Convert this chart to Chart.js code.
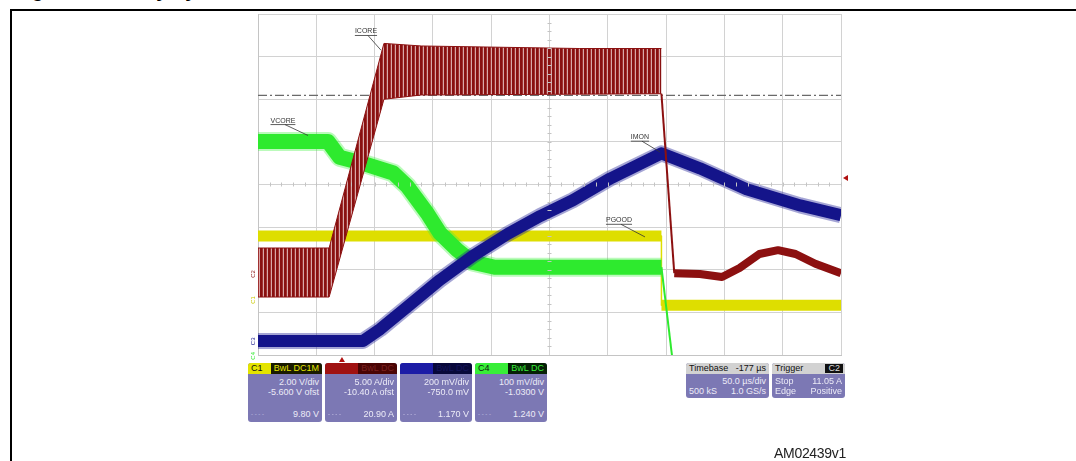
<!DOCTYPE html>
<html>
<head>
<meta charset="utf-8">
<script src="https://cdn.jsdelivr.net/npm/chart.js@4"></script>
<style>
  body { margin: 0; background: #fff; width: 1076px; height: 461px; overflow: hidden; position: relative; font-family: "Liberation Sans", Arial, sans-serif; }
  #title { position: absolute; left: 14px; top: -21px; font: bold 20px "Liberation Sans", Arial, sans-serif; color: #000; white-space: nowrap; }
  #frame { position: absolute; left: 10px; top: 9px; width: 1080px; height: 470px; border-top: 2px solid #000; border-left: 2px solid #000; }
  #c { position: absolute; left: 0; top: 0; }
  .box { position: absolute; background: #7c78b4; border-radius: 3px; color: #ecebf7; font-size: 9px; line-height: 10px; overflow: hidden; }
  .hdr { position: absolute; left: 0; top: 0; right: 0; height: 11px; display: flex; }
  .hdr .a { padding-left: 3px; flex: 1; }
  .hdr .b { padding: 0 3px; }
  .row { position: absolute; left: 3px; right: 3px; display: flex; justify-content: space-between; }
  .dash { font-size: 6px; color: #c9c6e6; }
  #caption { position: absolute; left: 774px; top: 445px; font: 14px "Liberation Sans", Arial, sans-serif; letter-spacing: -0.3px; color: #222; }
</style>
</head>
<body>
<div id="title">Figure 18. Delay by constant current</div>
<div id="frame"></div>
<canvas id="c" width="1076" height="461"></canvas>

<div class="box" style="left:248px;top:363px;width:74px;height:59px">
  <div class="hdr"><span class="a" style="background:#e4e400;color:#111">C1</span><span class="b" style="background:#1a1a00;color:#e4e400">BwL DC1M</span></div>
  <div class="row" style="top:14px"><span></span><span>2.00 V/div</span></div>
  <div class="row" style="top:24px"><span></span><span>-5.600 V ofst</span></div>
  <div class="row" style="top:46px"><span class="dash">- - - -</span><span>9.80 V</span></div>
</div>
<div class="box" style="left:325px;top:363px;width:72px;height:59px">
  <div class="hdr"><span class="a" style="background:#a01212;color:#a01212">C2</span><span class="b" style="background:#4a0404;color:#7a2020">BwL DC</span></div>
  <div class="row" style="top:14px"><span></span><span>5.00 A/div</span></div>
  <div class="row" style="top:24px"><span></span><span>-10.40 A ofst</span></div>
  <div class="row" style="top:46px"><span class="dash">- - - -</span><span>20.90 A</span></div>
</div>
<div class="box" style="left:400px;top:363px;width:72px;height:59px">
  <div class="hdr"><span class="a" style="background:#1c1ca6;color:#1c1ca6">C3</span><span class="b" style="background:#08083a;color:#14145a">BwL DC</span></div>
  <div class="row" style="top:14px"><span></span><span>200 mV/div</span></div>
  <div class="row" style="top:24px"><span></span><span>-750.0 mV</span></div>
  <div class="row" style="top:46px"><span class="dash">- - - -</span><span>1.170 V</span></div>
</div>
<div class="box" style="left:475px;top:363px;width:72px;height:59px">
  <div class="hdr"><span class="a" style="background:#38ee38;color:#111">C4</span><span class="b" style="background:#062006;color:#38ee38">BwL DC</span></div>
  <div class="row" style="top:14px"><span></span><span>100 mV/div</span></div>
  <div class="row" style="top:24px"><span></span><span>-1.0300 V</span></div>
  <div class="row" style="top:46px"><span class="dash">- - - -</span><span>1.240 V</span></div>
</div>
<div class="box" style="left:686px;top:363px;width:83px;height:35px">
  <div class="hdr" style="background:#d2d2d2;color:#111"><span class="a">Timebase</span><span class="b">-177 µs</span></div>
  <div class="row" style="top:13px"><span></span><span>50.0 µs/div</span></div>
  <div class="row" style="top:23px"><span>500 kS</span><span>1.0 GS/s</span></div>
</div>
<div class="box" style="left:772px;top:363px;width:73px;height:35px">
  <div class="hdr" style="background:#d2d2d2;color:#111"><span class="a">Trigger</span><span class="b" style="background:#111;color:#ddd;margin:1px 2px;line-height:9px">C2</span></div>
  <div class="row" style="top:13px"><span>Stop</span><span>11.05 A</span></div>
  <div class="row" style="top:23px"><span>Edge</span><span>Positive</span></div>
</div>
<div id="caption">AM02439v1</div>

<script>
// time axis in µs (50 µs/div, 10 div), vertical axis in screen divisions (-4..4)

// ICORE (C2) ripple envelope before the shutdown
const icoreT = [0, 61, 108, 140, 276, 346];
const icoreUpper = [-1.49, -1.49, 3.31, 3.25, 3.19, 3.19];
const icoreLower = [-2.64, -2.64, 2.0, 2.1, 2.12, 2.13];
// ICORE after the drop
const icoreOffT = [346, 357, 379, 398, 413, 430, 446, 461, 478, 500];
const icoreOffV = [2.13, -2.08, -2.1, -2.17, -1.96, -1.63, -1.54, -1.63, -1.86, -2.08];

// VCORE (C4)
const vcoreT = [0, 60, 70, 92, 116, 128, 145, 156, 171, 184, 203, 346, 355];
const vcoreV = [1.01, 1.01, 0.64, 0.48, 0.27, -0.04, -0.67, -1.14, -1.54, -1.82, -1.94, -1.94, -4.0];

// IMON (C3)
const imonT = [0, 90, 105, 128, 156, 184, 214, 242, 270, 302, 346, 379, 419, 465, 500];
const imonV = [-3.67, -3.67, -3.39, -2.87, -2.24, -1.68, -1.16, -0.74, -0.37, 0.14, 0.73, 0.38, -0.11, -0.49, -0.72];

// PGOOD (C1)
const pgoodT = [0, 346, 346, 500];
const pgoodV = [-1.21, -1.21, -2.83, -2.83];

// trigger level / trigger time
const triggerLevel = 2.09;
const triggerTime = 72;

const traceLabels = ['ICORE', 'VCORE', 'IMON', 'PGOOD'];
const channelNames = ['C2', 'C1', 'C3', 'C4'];
const channelLevels = [-2.1, -2.71, -3.68, -4.02];

const RED = '#8c1010', BLUE = '#14148a', GREEN = '#2eea2e', YELLOW = '#dede00';

const pts = (xs, ys) => xs.map((x, i) => ({ x: x, y: ys[i] }));

const canvas = document.getElementById('c');
const ctx = canvas.getContext('2d');

// vertical stripe pattern for the switching ripple band
const pc = document.createElement('canvas');
pc.width = 4; pc.height = 1;
const pctx = pc.getContext('2d');
pctx.fillStyle = '#881010'; pctx.fillRect(0, 0, 2, 1);
pctx.fillStyle = '#a03030'; pctx.fillRect(2, 0, 1, 1);
pctx.fillStyle = '#d8a8a8'; pctx.fillRect(3, 0, 1, 1);
const ripple = ctx.createPattern(pc, 'repeat');

// label anchors: text centre and leader end, in data units
const labelPos = [
  { t: 92.6, v: 3.59, lt: 105.5, lv: 3.15 },
  { t: 21.4, v: 1.50, lt: 42.9, lv: 1.15 },
  { t: 327.6, v: 1.11, lt: 344.8, lv: 0.76 },
  { t: 309.6, v: -0.84, lt: 331.9, lv: -1.23 }
];

const decorations = {
  id: 'decorations',
  afterDatasetsDraw(chart) {
    const c = chart.ctx, xs = chart.scales.x, ys = chart.scales.y, area = chart.chartArea;
    c.save();
    // centre-line minor ticks
    c.strokeStyle = '#c4c4c4'; c.lineWidth = 1;
    const cy = ys.getPixelForValue(0), cx = xs.getPixelForValue(250);
    for (let t = 0; t <= 500; t += 10) {
      const px = Math.round(xs.getPixelForValue(t)) + 0.5;
      c.beginPath(); c.moveTo(px, cy - 2); c.lineTo(px, cy + 2); c.stroke();
    }
    for (let v = -4; v <= 4; v += 0.2) {
      const py = Math.round(ys.getPixelForValue(v)) + 0.5;
      c.beginPath(); c.moveTo(cx - 2, py); c.lineTo(cx + 2, py); c.stroke();
    }
    // trace labels with leaders
    c.font = '7px "Liberation Sans", Arial, sans-serif';
    c.textAlign = 'center'; c.textBaseline = 'middle';
    traceLabels.forEach((txt, i) => {
      const p = labelPos[i];
      const x = xs.getPixelForValue(p.t), y = ys.getPixelForValue(p.v);
      const w = c.measureText(txt).width;
      c.fillStyle = '#333'; c.fillText(txt, x, y);
      c.strokeStyle = '#333'; c.lineWidth = 0.8;
      c.beginPath(); c.moveTo(x - w / 2, y + 4); c.lineTo(x + w / 2, y + 4); c.stroke();
      c.beginPath(); c.moveTo(x + 2, y + 4); c.lineTo(xs.getPixelForValue(p.lt), ys.getPixelForValue(p.lv)); c.stroke();
    });
    // channel ground markers on the left
    const chColors = [RED, '#c8c800', BLUE, GREEN];
    channelNames.forEach((n, i) => {
      c.save();
      c.translate(area.left - 5, ys.getPixelForValue(channelLevels[i]));
      c.rotate(-Math.PI / 2);
      c.fillStyle = chColors[i];
      c.font = '6px "Liberation Sans", Arial, sans-serif';
      c.fillText(n, 0, 0);
      c.restore();
    });
    // trigger markers
    c.fillStyle = '#b01010';
    const tx = xs.getPixelForValue(triggerTime);
    c.beginPath(); c.moveTo(tx, area.bottom + 2); c.lineTo(tx - 3, area.bottom + 7); c.lineTo(tx + 3, area.bottom + 7); c.fill();
    const ty = ys.getPixelForValue(0.15);
    c.beginPath(); c.moveTo(area.right + 2, ty); c.lineTo(area.right + 7, ty - 3); c.lineTo(area.right + 7, ty + 3); c.fill();
    c.restore();
  }
};

new Chart(ctx, {
  type: 'line',
  data: {
    datasets: [
      { data: pts(icoreOffT, icoreOffV), borderColor: RED, borderWidth: 8,
        segment: { borderWidth: s => s.p0DataIndex === 0 ? 2 : 8 } },
      { data: pts(icoreT, icoreUpper), borderColor: RED, borderWidth: 1 },
      { data: pts(icoreT, icoreLower), borderColor: RED, borderWidth: 1, fill: '-1', backgroundColor: ripple },
      { data: pts(imonT, imonV), borderColor: BLUE, borderWidth: 12 },
      { data: pts(imonT, imonV), borderColor: 'rgba(30,30,150,0.4)', borderWidth: 16 },
      { data: pts(vcoreT, vcoreV), borderColor: GREEN, borderWidth: 15,
        segment: { borderWidth: s => s.p0DataIndex === vcoreT.length - 2 ? 2 : 15 } },
      { data: pts(vcoreT.slice(0, -1), vcoreV.slice(0, -1)), borderColor: 'rgba(60,240,60,0.35)', borderWidth: 19 },
      { data: pts(pgoodT, pgoodV), borderColor: YELLOW, borderWidth: 11,
        segment: { borderWidth: s => s.p0DataIndex === 1 ? 1.5 : 11 } },
      { data: pts([0, 500], [triggerLevel, triggerLevel]), borderColor: '#6a6a6a', borderWidth: 1.2,
        borderDash: [9, 3, 2, 3] }
    ]
  },
  options: {
    responsive: false,
    animation: false,
    devicePixelRatio: 1,
    layout: { padding: { left: 258, top: 14, right: 235, bottom: 106 } },
    elements: { point: { radius: 0 }, line: { tension: 0, borderJoinStyle: 'round', borderCapStyle: 'butt' } },
    plugins: { legend: { display: false }, tooltip: { enabled: false } },
    scales: {
      x: { type: 'linear', min: 0, max: 500,
        ticks: { display: false, stepSize: 50 },
        grid: { color: '#d2d2d2', drawTicks: false },
        border: { color: '#c4c4c4' } },
      y: { type: 'linear', min: -4, max: 4,
        ticks: { display: false, stepSize: 1 },
        grid: { color: '#d2d2d2', drawTicks: false },
        border: { color: '#c4c4c4' } }
    }
  },
  plugins: [decorations]
});
</script>
</body>
</html>
